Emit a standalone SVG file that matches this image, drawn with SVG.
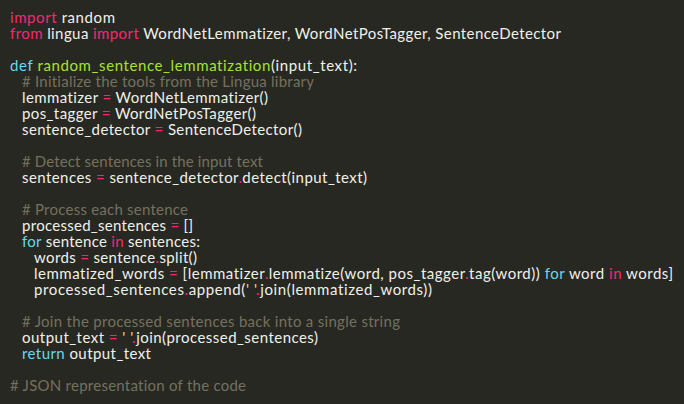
<svg xmlns="http://www.w3.org/2000/svg" width="684" height="404" viewBox="0 0 684 404">
<style>
text{font-family:Lato,"Noto Sans","DejaVu Sans",sans-serif;font-size:15px;fill:#F0F0EA;white-space:pre;font-variant-ligatures:none;font-feature-settings:"liga" 0}
.k{fill:#F92672}.b{fill:#66D9EF}.f{fill:#A6E22E}.c{fill:#75715E}.s{fill:#E6DB74}
</style>
<rect width="684" height="404" fill="#272822"/>
<g id="code">
<text x="10" y="23" textLength="105" lengthAdjust="spacing"><tspan class="k">import</tspan> random</text>
<text x="10" y="39" textLength="551" lengthAdjust="spacing"><tspan class="k">from</tspan> lingua <tspan class="k">import</tspan> WordNetLemmatizer, WordNetPosTagger, SentenceDetector</text>
<text x="10" y="71" textLength="347" lengthAdjust="spacing"><tspan class="b">def</tspan> <tspan class="f">random_sentence_lemmatization</tspan>(input_text):</text>
<text x="22" y="87" class="c" textLength="292" lengthAdjust="spacing"># Initialize the tools from the Lingua library</text>
<text x="22" y="103" textLength="246" lengthAdjust="spacing">lemmatizer <tspan class="k">=</tspan> WordNetLemmatizer()</text>
<text x="22" y="119" textLength="234" lengthAdjust="spacing">pos_tagger <tspan class="k">=</tspan> WordNetPosTagger()</text>
<text x="22" y="135" textLength="280" lengthAdjust="spacing">sentence_detector <tspan class="k">=</tspan> SentenceDetector()</text>
<text x="22" y="167" class="c" textLength="241" lengthAdjust="spacing"># Detect sentences in the input text</text>
<text x="22" y="183" textLength="345" lengthAdjust="spacing">sentences <tspan class="k">=</tspan> sentence_detector<tspan class="k">.</tspan>detect(input_text)</text>
<text x="22" y="215" class="c" textLength="166" lengthAdjust="spacing"># Process each sentence</text>
<text x="22" y="231" textLength="171" lengthAdjust="spacing">processed_sentences <tspan class="k">=</tspan> []</text>
<text x="22" y="247" textLength="178" lengthAdjust="spacing"><tspan class="b">for</tspan> sentence <tspan class="k">in</tspan> sentences:</text>
<text x="34" y="263" textLength="163" lengthAdjust="spacing">words <tspan class="k">=</tspan> sentence<tspan class="k">.</tspan>split()</text>
<text x="34" y="279" textLength="639" lengthAdjust="spacing">lemmatized_words <tspan class="k">=</tspan> [lemmatizer<tspan class="k">.</tspan>lemmatize(word, pos_tagger<tspan class="k">.</tspan>tag(word)) <tspan class="b">for</tspan> word <tspan class="k">in</tspan> words]</text>
<text x="34" y="295" textLength="398" lengthAdjust="spacing">processed_sentences<tspan class="k">.</tspan>append(<tspan class="s">' '</tspan><tspan class="k">.</tspan>join(lemmatized_words))</text>
<text x="22" y="327" class="c" textLength="378" lengthAdjust="spacing"># Join the processed sentences back into a single string</text>
<text x="22" y="343" textLength="296" lengthAdjust="spacing">output_text <tspan class="k">=</tspan> <tspan class="s">' '</tspan><tspan class="k">.</tspan>join(processed_sentences)</text>
<text x="22" y="359" textLength="129" lengthAdjust="spacing"><tspan class="b">return</tspan> output_text</text>
<text x="10" y="391" class="c" textLength="236" lengthAdjust="spacing"># JSON representation of the code</text>
</g>
</svg>
